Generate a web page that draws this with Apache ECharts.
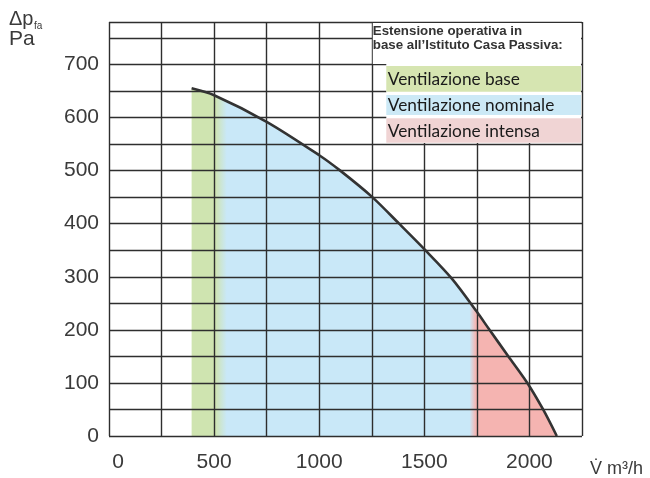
<!DOCTYPE html>
<html>
<head>
<meta charset="utf-8">
<script src="https://cdn.jsdelivr.net/npm/echarts@6/dist/echarts.min.js"></script>
<style>
html,body{margin:0;padding:0;background:#fff;}
#c{width:650px;height:478px;}
</style>
</head>
<body>
<div id="c"></div>
<script>
// Fan curve: volume flow (m³/h) vs pressure (Pa)
const flow = [393, 500, 750, 1000, 1100, 1250, 1380, 1500, 1630, 1750, 1810, 1900, 1990, 2065, 2130];
const pressure = [655, 642, 592, 529, 500, 451, 400, 352, 297, 234, 200, 150, 100, 50, 0];
const xTickLabels = [0, 500, 1000, 1500, 2000];
const yTickLabels = [0, 100, 200, 300, 400, 500, 600, 700];
// Operating ranges (m³/h) : base / nominale / intensa boundaries
const zoneBounds = [505, 560, 1715, 1745];
const legendTitle = ['Estensione operativa in', 'base all\u2019Istituto Casa Passiva:'];
const legendItems = ['Ventilazione base', 'Ventilazione nominale', 'Ventilazione intensa'];

const pts = flow.map((x, i) => [x, pressure[i]]);
const xmin = flow[0], xmax = flow[flow.length - 1];
const f = v => (v - xmin) / (xmax - xmin);

const GREEN = '#cfe4b0', BLUE = '#c9e8f8', PINK = '#f5b4b1';
const LBL = '#3a3a3a';
const FONT = 'Liberation Sans, Arial, sans-serif';

const chart = echarts.init(document.getElementById('c'), null, {renderer: 'canvas'});
chart.setOption({
  animation: false,
  grid: {left: 109, right: 68, top: 22, bottom: 42},
  xAxis: {
    type: 'value', min: 0, max: 2250, interval: 250, z: 5,
    axisLine: {show: false}, axisTick: {show: false},
    splitLine: {show: true, lineStyle: {color: '#2e2e2e', width: 1.4}},
    axisLabel: {
      margin: 16, fontSize: 21, color: LBL, fontFamily: FONT,
      formatter: v => xTickLabels.includes(v) ? (v === 0 ? '{z|0}' : String(v)) : '',
      rich: {z: {padding: [0, 0, 0, 18], fontSize: 21, color: LBL, fontFamily: FONT}}
    }
  },
  yAxis: {
    type: 'value', min: 0, max: 780, interval: 50, z: 5,
    axisLine: {show: false}, axisTick: {show: false},
    splitLine: {show: true, lineStyle: {color: '#2e2e2e', width: 1.4}},
    axisLabel: {
      margin: 10, fontSize: 21, color: LBL, fontFamily: FONT,
      formatter: v => yTickLabels.includes(v) ? String(v) : ''
    }
  },
  series: [
    {
      type: 'line', z: 1, data: pts, symbol: 'none', smooth: 0.3,
      lineStyle: {width: 0, opacity: 0},
      areaStyle: {
        opacity: 1,
        color: {
          type: 'linear', x: 0, y: 0, x2: 1, y2: 0,
          colorStops: [
            {offset: 0, color: GREEN},
            {offset: f(zoneBounds[0]), color: GREEN},
            {offset: f(zoneBounds[1]), color: BLUE},
            {offset: f(zoneBounds[2]), color: BLUE},
            {offset: f(zoneBounds[3]), color: PINK},
            {offset: 1, color: PINK}
          ]
        }
      }
    },
    {
      type: 'line', z: 10, data: pts, symbol: 'none', smooth: 0.3,
      lineStyle: {color: '#333', width: 2.6}
    }
  ]
});

// Legend box occupies the region x>=1250, y>=550 of the plot
const tl = chart.convertToPixel({gridIndex: 0}, [1250, 780]);
const br = chart.convertToPixel({gridIndex: 0}, [2250, 550]);
const bx = tl[0], by = tl[1], bw = br[0] - tl[0], bh = br[1] - tl[1];
const rows = [
  {t: 44, h: 25.7, c: '#d6e5b1'},
  {t: 73, h: 20, c: '#cce9f6'},
  {t: 96.3, h: 24.4, c: '#f0d4d4'}
];
const gx = bx + 14.5;
const graphics = [
  {type: 'rect', z: 20, shape: {x: bx + 1, y: by + 1, width: bw - 2, height: 41}, style: {fill: '#fff'}},
  {type: 'rect', z: 20, shape: {x: gx, y: by + 41, width: br[0] - 1 - gx, height: bh - 42}, style: {fill: '#fff'}},
  {type: 'text', z: 22, x: bx + 1, y: by + 2,
   style: {text: legendTitle.join('\n'), font: 'bold 13.3px ' + FONT, fill: '#333', lineHeight: 14.5}}
];
rows.forEach((r, i) => {
  graphics.push({type: 'rect', z: 21, shape: {x: gx, y: by + r.t, width: br[0] - 1 - gx, height: r.h}, style: {fill: r.c}});
  graphics.push({type: 'text', z: 22, x: gx + 1.5, y: by + r.t + r.h / 2 + 0.5,
    style: {text: legendItems[i], font: '17.3px Lato, sans-serif', fill: '#1a1a1a', verticalAlign: 'middle'}});
});
// Axis titles
graphics.push({type: 'text', z: 22, x: 9, y: 9, style: {text: '\u0394p', font: '20px ' + FONT, fill: LBL}});
graphics.push({type: 'text', z: 22, x: 34, y: 21, style: {text: 'fa', font: '10px ' + FONT, fill: LBL}});
graphics.push({type: 'text', z: 22, x: 9, y: 29, style: {text: 'Pa', font: '21px ' + FONT, fill: LBL}});
graphics.push({type: 'text', z: 22, x: 590, y: 469, style: {text: 'V\u0307 m\u00b3/h', font: '18px ' + FONT, fill: LBL, verticalAlign: 'middle'}});
chart.setOption({graphic: graphics});
</script>
</body>
</html>
